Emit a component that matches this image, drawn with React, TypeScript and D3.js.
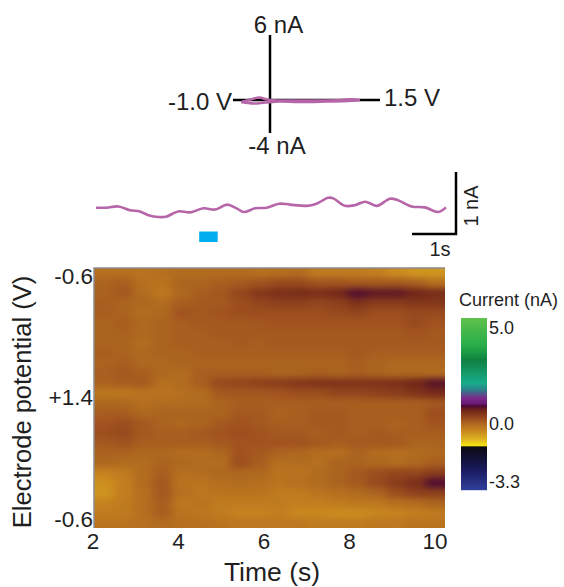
import React from "react";
import * as d3 from "d3";

const FONT = "'Liberation Sans', Arial, sans-serif";
const INK = "#1f1f1f";
const PINK = "#b565a8";

const cvForwardV = [-0.86, -0.7, -0.55, -0.43, -0.25, 0.0, 0.4, 0.85, 1.0, 1.16];
const cvForwardI = [-0.15, 0.1, 0.3, 0.1, 0.0, 0.0, 0.0, 0.05, 0.12, 0.05];
const cvReturnV = [1.16, 0.95, 0.6, 0.1, -0.2, -0.45, -0.65, -0.86];
const cvReturnI = [0.05, -0.05, -0.1, -0.15, -0.1, -0.2, -0.3, -0.15];

const traceTime = [0, 0.25, 0.52, 0.79, 1.02, 1.22, 1.45, 1.63, 1.91, 2.19, 2.5, 2.77, 3.05, 3.27, 3.44, 3.7, 3.97, 4.26, 4.51, 4.9, 5.13, 5.4, 5.52, 5.79, 6.02, 6.26, 6.53, 6.84, 7.03, 7.34, 7.65, 7.96, 8.14];
const traceCurrent = [0, 0, 0.02, -0.04, -0.06, -0.12, -0.15, -0.145, -0.06, -0.075, -0.01, -0.03, 0.05, -0.01, -0.07, -0.01, 0, 0.065, 0.05, 0.03, 0.065, 0.16, 0.15, 0.03, 0.04, 0.097, 0.03, 0.145, 0.118, 0.02, 0.005, -0.07, 0.005];
const stimulus = [2.4, 2.83];

const timeTicks = [2, 4, 6, 8, 10];
const sweepLabels = ["-0.6", "+1.4", "-0.6"];
const sweepFractions = [0, 0.5, 1];

const barStopsValue = [5.47, 4.84, 4.06, 3.39, 3.3, 2.08, 1.72, 1.3, 0.99, 0.89, 0.68, 0.16, 0, -0.4, -0.97, -1.25, -1.3, -1.35, -2.67, -3.8];
const barStopsColor = ["#62c14a", "#45b84a", "#2aae4a", "#128a42", "#118040", "#17ad8a", "#2f7f8a", "#7a2a8a", "#6a1a70", "#4a0838", "#6e2418", "#a0521f", "#ab641f", "#c6821f", "#e0b820", "#f0e010", "#f0e010", "#0a0a10", "#1a1a60", "#30409a"];
const barLabels = ["5.0", "0.0", "-3.3"];
const barLabelValues = [5, 0, -3.3];

const currentGrid = [
  [-.15,-.15,-.2,-.15,-.1,-.1,-.1,-.1,-.15,-.15,-.1,-.3,-.3,-.3,-.35,-.5,-.6,-.6],
  [0,.05,-.15,-.2,0,0,.05,.1,.15,.25,.25,.15,.15,.1,.1,.1,.05,-.15],
  [.02,.1,-.1,-.25,-.05,.05,.12,.28,.45,.55,.58,.56,.62,.84,.76,.76,.66,.58],
  [.05,0,-.05,-.1,.05,.1,.1,.2,.3,.35,.35,.3,.35,.5,.4,.4,.45,.45],
  [.05,0,-.1,-.05,.15,.1,.15,.2,.2,.2,.2,.2,.25,.3,.2,.2,.25,.25],
  [0,.05,-.05,0,.05,.1,.1,.1,.12,.15,.15,.15,.15,.15,.15,.15,.25,.15],
  [0,.02,-.05,0,.05,.05,.1,.1,.1,.1,.1,.1,.1,.1,.1,.1,.15,.1],
  [0,0,-.1,0,.05,.05,.05,.1,.05,.1,.1,.1,.1,.1,.1,.1,.1,.1],
  [.05,0,-.05,0,0,.05,.05,.05,.05,.05,.05,.05,.05,.1,.05,.05,.05,.05],
  [0,.05,-.05,-.05,0,0,0,0,0,0,0,0,0,.05,0,-.05,-.05,-.05],
  [.05,.1,.05,-.05,-.1,.05,.05,.05,.05,0,0,.05,0,.05,0,-.05,-.05,-.1],
  [0,.05,.08,-.15,-.1,.05,.25,.3,.35,.4,.45,.5,.5,.5,.5,.55,.65,.8],
  [-.25,-.25,-.2,-.2,-.15,-.1,.1,.12,.12,.15,.2,.2,.3,.3,.35,.4,.5,.6],
  [-.05,-.05,-.15,-.1,-.1,-.1,0,.05,.05,.05,.05,.05,.05,.05,.05,.05,.05,.1],
  [.05,.05,-.05,0,0,0,0,.1,.1,0,.05,.1,.1,.05,.05,.05,.05,.2],
  [.15,.2,.1,0,-.05,0,.1,.15,.1,.05,.05,.1,.1,.05,.05,0,.05,.15],
  [.2,.25,.1,.05,.05,.1,.15,.2,.15,.1,.1,.05,.1,.05,.1,.05,.05,.05],
  [.1,.15,.05,.05,.05,.05,.1,.15,.15,.15,.15,.1,.05,.1,.1,.1,0,0],
  [0,0,-.05,-.05,-.1,-.1,-.05,.15,.1,0,-.05,-.1,-.15,0,-.1,-.15,-.1,-.05],
  [-.05,-.1,-.1,0,-.05,-.1,-.1,.2,.05,-.15,-.1,-.15,0,0,-.05,-.1,-.05,.05],
  [-.4,-.3,-.1,.05,-.15,-.1,-.05,-.05,-.05,-.2,-.2,-.1,0,.1,.2,.3,.3,.4],
  [-.55,-.35,-.1,.1,-.2,-.2,-.15,-.1,-.15,-.2,-.15,-.1,0,.1,.25,.4,.55,.85],
  [-.6,-.35,-.15,.1,-.15,-.25,-.2,-.2,-.2,-.3,-.3,-.2,-.15,-.1,0,.2,.35,.35],
  [-.4,-.3,-.15,.05,-.25,-.2,-.3,-.3,-.3,-.3,-.35,-.35,-.3,-.25,-.25,-.15,-.1,0],
  [-.3,-.3,-.15,.05,-.2,-.25,-.3,-.4,-.4,-.35,-.45,-.45,-.5,-.5,-.45,-.4,-.35,-.3],
  [-.2,-.2,-.15,-.1,-.15,-.15,-.2,-.25,-.25,-.25,-.25,-.3,-.3,-.3,-.25,-.25,-.2,-.2],
];

const W = 564, H = 587;
const plot = { l: 94, r: 445, t: 268, b: 528 };
const color = d3.scaleLinear<string>().domain([...barStopsValue].reverse()).range([...barStopsColor].reverse()).interpolate(d3.interpolateRgb);

const tx = d3.scaleLinear().domain([2, 10]).range([93, 435]);
const sweepY = d3.scaleLinear().domain([0, 1]).range([276, 519]);
const colX = d3.scaleLinear().domain([0, currentGrid[0].length]).range([plot.l, plot.r]);
const rowY = d3.scaleLinear().domain([0, currentGrid.length]).range([plot.t, plot.b]);

const cvX = d3.scaleLinear().domain([-1, 1.5]).range([233, 380]);
const cvY = d3.scaleLinear().domain([0, 1]).range([100.5, 90.5]);
const trX = d3.scaleLinear().domain([0, 8.14]).range([96, 446]);
const trY = d3.scaleLinear().domain([0, 1]).range([207.7, 145.7]);

const barY = d3.scaleLinear().domain([5.47, 0, -3.8]).range([318, 423, 490]);
const barRows = d3.range(318, 490);

const pairs = (a: number[], b: number[]) => a.map((v, i) => [v, b[i]] as [number, number]);
const cvLine = d3.line<[number, number]>().x(d => cvX(d[0])).y(d => cvY(d[1])).curve(d3.curveCatmullRom);
const trLine = d3.line<[number, number]>().x(d => trX(d[0])).y(d => trY(d[1])).curve(d3.curveCatmullRom);

function T(p: any) {
  return <text fontFamily={FONT} fill={INK} {...p} />;
}

export default function App() {
  const nR = currentGrid.length, nC = currentGrid[0].length;
  return (
    <svg width={W} height={H} style={{ position: "absolute", left: 0, top: 0, display: "block", background: "#fff" }}>
      <defs>
        <clipPath id="plotClip"><rect x={plot.l} y={plot.t} width={plot.r - plot.l} height={plot.b - plot.t} /></clipPath>
        <filter id="smooth" filterUnits="userSpaceOnUse" x={40} y={220} width={460} height={360} colorInterpolationFilters="sRGB">
          <feGaussianBlur stdDeviation="5 3" />
        </filter>
      </defs>

      {/* cyclic voltammogram */}
      <line x1={270} x2={270} y1={35} y2={133} stroke="#000" strokeWidth={2.5} />
      <line x1={233} x2={380} y1={100} y2={100} stroke="#000" strokeWidth={2.5} />
      <path d={cvLine(pairs(cvForwardV, cvForwardI))!} fill="none" stroke={PINK} strokeWidth={2.6} />
      <path d={cvLine(pairs(cvReturnV, cvReturnI))!} fill="none" stroke={PINK} strokeWidth={2.6} />
      <T x={278.5} y={33} fontSize={24} textAnchor="middle">6 nA</T>
      <T x={277} y={154} fontSize={24} textAnchor="middle">-4 nA</T>
      <T x={232} y={110} fontSize={24} textAnchor="end">-1.0 V</T>
      <T x={384} y={106} fontSize={24}>1.5 V</T>

      {/* current trace */}
      <path d={trLine(pairs(traceTime, traceCurrent))!} fill="none" stroke={PINK} strokeWidth={2.6} strokeLinejoin="round" />
      <rect x={trX(stimulus[0])} width={trX(stimulus[1]) - trX(stimulus[0])} y={231.5} height={10.5} fill="#00aeef" />
      <path d="M412,234H456V172" fill="none" stroke="#000" strokeWidth={2.5} />
      <T x={440} y={256} fontSize={20} textAnchor="middle">1s</T>
      <T transform="translate(478,206) rotate(-90)" fontSize={20} textAnchor="middle">1 nA</T>

      {/* heat map */}
      <g clipPath="url(#plotClip)">
        <g filter="url(#smooth)">
          {currentGrid.map((row, r) => row.map((v, c) => {
            const x0 = c === 0 ? plot.l - 30 : colX(c);
            const x1 = c === nC - 1 ? plot.r + 30 : colX(c + 1);
            const y0 = r === 0 ? plot.t - 20 : rowY(r);
            const y1 = r === nR - 1 ? plot.b + 20 : rowY(r + 1);
            return <rect key={`${r}-${c}`} x={x0} y={y0} width={x1 - x0 + 0.5} height={y1 - y0 + 0.5} fill={color(v)} />;
          }))}
        </g>
      </g>
      <path d={`M${plot.l},${plot.b}V${plot.t}H${plot.r}`} fill="none" stroke="#8c8c8c" strokeWidth={1.5} />

      {timeTicks.map(t => (
        <T key={t} x={tx(t)} y={549} fontSize={22.5} textAnchor="middle">{t}</T>
      ))}
      <T x={272} y={581} fontSize={26.5} textAnchor="middle">Time (s)</T>
      {sweepLabels.map((s, i) => (
        <T key={i} x={93} y={sweepY(sweepFractions[i]) + 7.5} fontSize={22.5} textAnchor="end">{s}</T>
      ))}
      <T transform="translate(31,402) rotate(-90)" fontSize={25.5} textAnchor="middle">Electrode potential (V)</T>

      {/* colour bar */}
      <T x={459} y={306} fontSize={18}>Current (nA)</T>
      {barRows.map(y => (
        <rect key={y} x={461} y={y} width={26} height={1.2} fill={color(barY.invert(y + 0.5))} />
      ))}
      {barLabels.map((s, i) => (
        <T key={i} x={489} y={barY(barLabelValues[i]) + 6.5} fontSize={18}>{s}</T>
      ))}
    </svg>
  );
}
